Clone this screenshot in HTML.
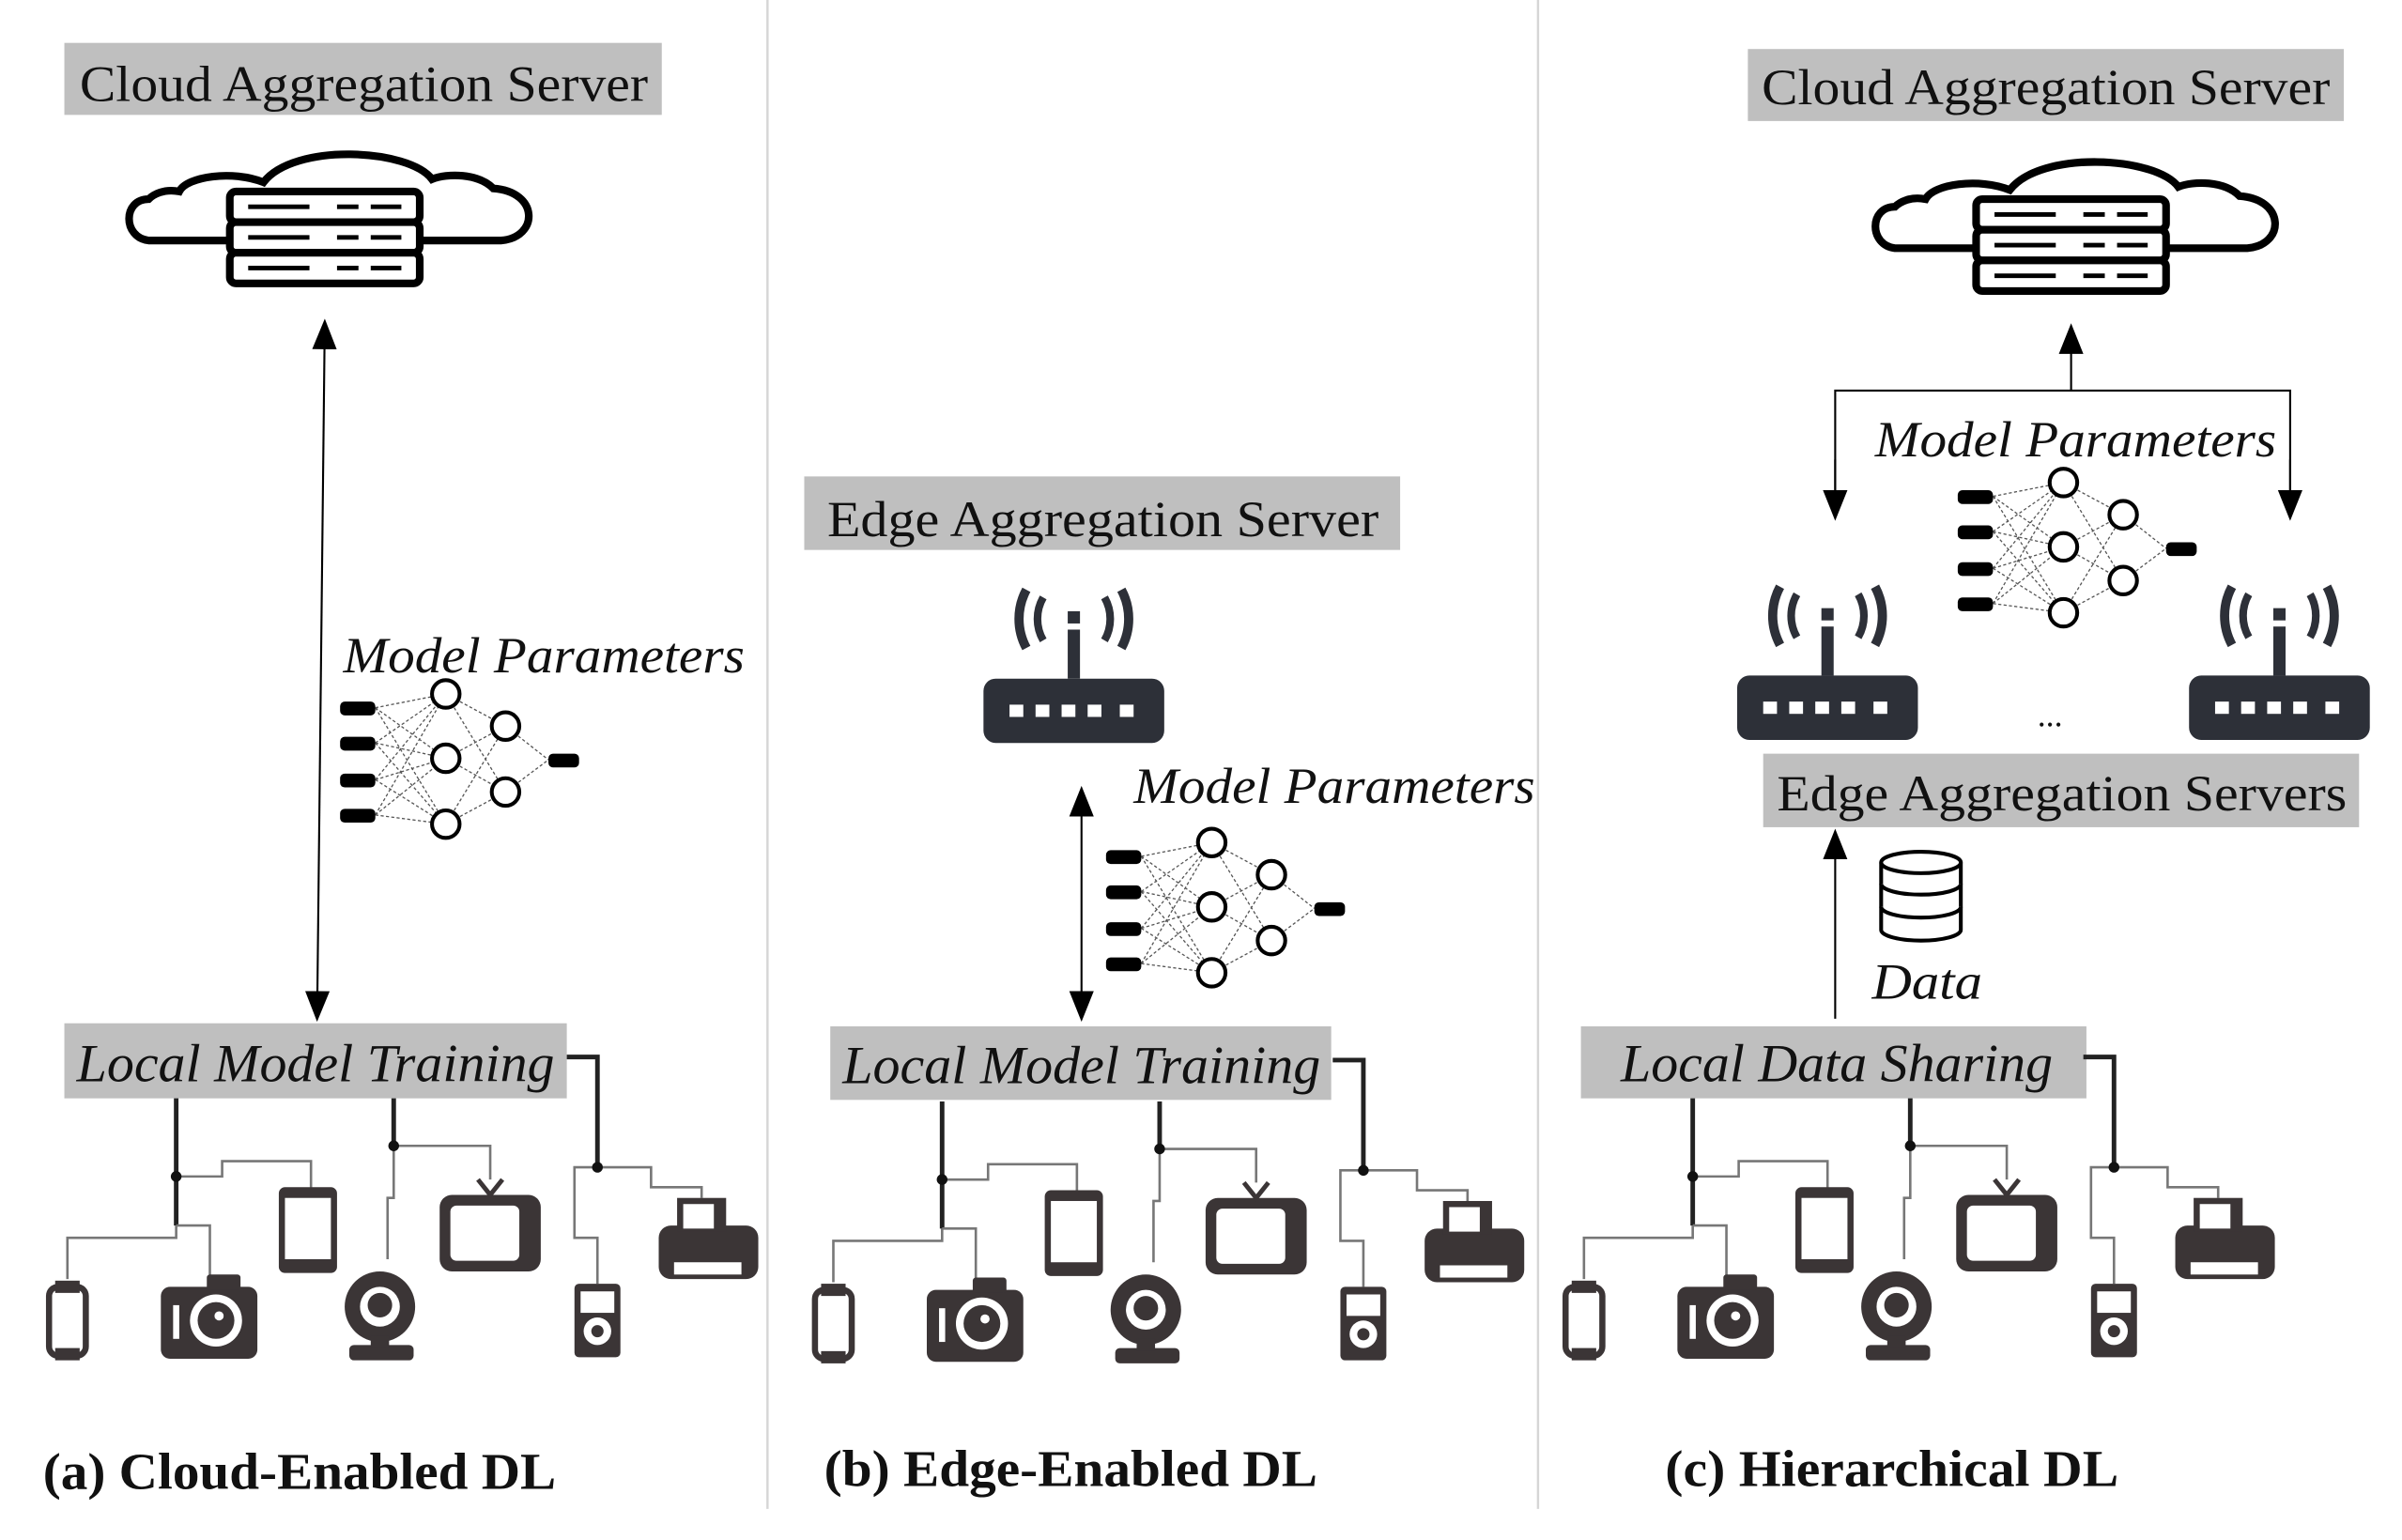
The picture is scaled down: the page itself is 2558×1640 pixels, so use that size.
<!DOCTYPE html>
<html><head><meta charset="utf-8"><style>
html,body{margin:0;padding:0;background:#fff;}
svg{display:block;}
text{font-family:"Liberation Serif","DejaVu Serif",serif;fill:#111;}
</style></head><body>
<svg width="2558" height="1640" viewBox="0 0 1568 1005.3" xmlns="http://www.w3.org/2000/svg" font-family="Liberation Serif, serif">
<defs>
<marker id="ahb" viewBox="0 0 10 10" refX="9" refY="5" markerWidth="20" markerHeight="20" orient="auto-start-reverse" markerUnits="userSpaceOnUse">
<path d="M0,1 L10,5 L0,9 z" fill="#000"/></marker>

<g id="cloud">
<path d="M-115,-25 C-132,-25 -132,0 -115,2 L115,2 C140,0 140,-30 110,-32 C100,-42 80,-42 70,-38 C55,-58 -20,-62 -40,-36 C-60,-44 -90,-40 -95,-30 C-105,-32 -112,-28 -115,-25 Z" fill="#fff" stroke="#000" stroke-width="5"/>
<rect x="-62" y="-30" width="124" height="20" rx="4" fill="#fff" stroke="#000" stroke-width="5"/>
<rect x="-62" y="-10" width="124" height="20" rx="4" fill="#fff" stroke="#000" stroke-width="5"/>
<rect x="-62" y="10" width="124" height="20" rx="4" fill="#fff" stroke="#000" stroke-width="5"/>
<g stroke="#000" stroke-width="3">
<line x1="-50" y1="-20" x2="-10" y2="-20"/><line x1="8" y1="-20" x2="22" y2="-20"/><line x1="30" y1="-20" x2="50" y2="-20"/>
<line x1="-50" y1="0" x2="-10" y2="0"/><line x1="8" y1="0" x2="22" y2="0"/><line x1="30" y1="0" x2="50" y2="0"/>
<line x1="-50" y1="20" x2="-10" y2="20"/><line x1="8" y1="20" x2="22" y2="20"/><line x1="30" y1="20" x2="50" y2="20"/>
</g>
</g>

<g id="nn">
<g stroke="#555" stroke-width="0.8" stroke-dasharray="2,1.5">
<path d="M23,4 L69,-5 M23,4 L69,37 M23,4 L69,80 M23,27 L69,-5 M23,27 L69,37 M23,27 L69,80 M23,51 L69,-5 M23,51 L69,37 M23,51 L69,80 M23,74 L69,-5 M23,74 L69,37 M23,74 L69,80"/>
<path d="M69,-5 L108,16 M69,-5 L108,59 M69,37 L108,16 M69,37 L108,59 M69,80 L108,16 M69,80 L108,59 M108,16 L136,38 M108,59 L136,38"/>
</g>
<g fill="#000">
<rect x="0" y="0" width="23" height="9" rx="3"/><rect x="0" y="23" width="23" height="9" rx="3"/>
<rect x="0" y="47" width="23" height="9" rx="3"/><rect x="0" y="70" width="23" height="9" rx="3"/>
<rect x="136" y="34" width="20" height="9" rx="3"/>
</g>
<g fill="#fff" stroke="#000" stroke-width="2.5">
<circle cx="69" cy="-5" r="9"/><circle cx="69" cy="37" r="9"/><circle cx="69" cy="80" r="9"/>
<circle cx="108" cy="16" r="9"/><circle cx="108" cy="59" r="9"/>
</g>
</g>

<g id="router">
<path d="M-31,-38 A40,40 0 0 0 -31,0" fill="none" stroke="#2d3038" stroke-width="6"/>
<path d="M-20,-33 A28,28 0 0 0 -20,-5" fill="none" stroke="#2d3038" stroke-width="5"/>
<path d="M31,-38 A40,40 0 0 1 31,0" fill="none" stroke="#2d3038" stroke-width="6"/>
<path d="M20,-33 A28,28 0 0 1 20,-5" fill="none" stroke="#2d3038" stroke-width="5"/>
<rect x="-4" y="-24" width="8" height="8" fill="#2d3038"/>
<rect x="-4" y="-12" width="8" height="32" fill="#2d3038"/>
<rect x="-59" y="20" width="118" height="42" rx="8" fill="#2d3038"/>
<g fill="#fff"><rect x="-42" y="37" width="9" height="8"/><rect x="-25" y="37" width="9" height="8"/><rect x="-8" y="37" width="9" height="8"/><rect x="9" y="37" width="9" height="8"/><rect x="30" y="37" width="9" height="8"/></g>
</g>

<g id="devices">
<g fill="none" stroke="#222" stroke-width="3">
<path d="M115,717 V800"/><path d="M257,717 V748"/><path d="M370,690 H390 V762"/>
</g>
<g fill="none" stroke="#777" stroke-width="1.6">
<path d="M115,768 H145 V758 H203 V776"/>
<path d="M115,800 H137 V835"/>
<path d="M115,800 V808 H44 V835"/>
<path d="M257,748 H320 V770"/>
<path d="M257,748 V782 H253 V822"/>
<path d="M390,762 H375 V808 H390 V838"/>
<path d="M390,762 H425 V775 H458 V782"/>
</g>
<g fill="#111"><circle cx="115" cy="768" r="3.5"/><circle cx="257" cy="748" r="3.5"/><circle cx="390" cy="762" r="3.5"/></g>
<g fill="#3b3536">
<rect x="32" y="840" width="24" height="45" rx="6" fill="#fff" stroke="#3b3536" stroke-width="4"/>
<rect x="36" y="836" width="16" height="8"/><rect x="36" y="880" width="16" height="8"/>
<rect x="105" y="840" width="63" height="47" rx="6"/><rect x="135" y="832" width="22" height="10" rx="2"/>
<circle cx="141" cy="862" r="17" fill="#fff"/><circle cx="141" cy="862" r="12"/><circle cx="143" cy="859" r="3" fill="#fff"/>
<rect x="113" y="852" width="4" height="22" fill="#fff"/>
<rect x="182" y="775" width="38" height="56" rx="4"/><rect x="186" y="782" width="30" height="40" fill="#fff"/>
<circle cx="248" cy="853" r="23"/><circle cx="248" cy="853" r="13" fill="#fff"/><circle cx="248" cy="852" r="8"/>
<rect x="228" y="878" width="42" height="10" rx="3"/><rect x="242" y="872" width="12" height="8"/>
<rect x="287" y="780" width="66" height="50" rx="8"/><rect x="294" y="787" width="45" height="36" rx="4" fill="#fff"/>
<path d="M312,770 L320,780 L328,770" fill="none" stroke="#3b3536" stroke-width="3"/>
<rect x="375" y="838" width="30" height="48" rx="3"/><rect x="379" y="843" width="22" height="14" fill="#fff"/>
<circle cx="390" cy="869" r="9" fill="#fff"/><circle cx="390" cy="869" r="4"/>
<rect x="430" y="800" width="65" height="35" rx="8"/><rect x="442" y="782" width="32" height="22"/>
<rect x="446" y="786" width="20" height="16" fill="#fff"/><rect x="440" y="824" width="44" height="8" fill="#fff"/>
</g>
</g>

<g id="db" fill="#fff" stroke="#000" stroke-width="2.5">
<path d="M0,8 V52 A26,7 0 0 0 52,52 V8"/>
<path d="M0,22 A26,7 0 0 0 52,22"/><path d="M0,37 A26,7 0 0 0 52,37"/>
<ellipse cx="26" cy="8" rx="26" ry="7"/>
</g>
</defs>

<line x1="501" y1="0" x2="501" y2="985" stroke="#d6d6d6" stroke-width="1.5"/>
<line x1="1004" y1="0" x2="1004" y2="985" stroke="#d6d6d6" stroke-width="1.5"/>

<!-- Panel A -->
<rect x="42" y="28" width="390" height="47" fill="#bfbfbf"/>
<text x="52" y="66" font-size="33" textLength="371" lengthAdjust="spacingAndGlyphs">Cloud Aggregation Server</text>
<use href="#cloud" x="212" y="155"/>
<line x1="212" y1="210" x2="207" y2="665" stroke="#000" stroke-width="1.3" marker-start="url(#ahb)" marker-end="url(#ahb)"/>
<text x="224" y="439" font-size="33" font-style="italic" textLength="262" lengthAdjust="spacingAndGlyphs">Model Parameters</text>
<use href="#nn" x="222" y="458"/>
<rect x="42" y="668" width="328" height="49" fill="#bfbfbf"/>
<text x="50" y="706" font-size="35" font-style="italic" textLength="312" lengthAdjust="spacingAndGlyphs">Local Model Training</text>
<use href="#devices"/>
<text x="28" y="972" font-size="34" font-weight="bold" textLength="335" lengthAdjust="spacingAndGlyphs">(a) Cloud-Enabled DL</text>

<!-- Panel B -->
<rect x="525" y="311" width="389" height="48" fill="#bfbfbf"/>
<text x="540" y="350" font-size="33" textLength="360" lengthAdjust="spacingAndGlyphs">Edge Aggregation Server</text>
<use href="#router" x="701" y="423"/>
<line x1="706" y1="515" x2="706" y2="665" stroke="#000" stroke-width="1.3" marker-start="url(#ahb)" marker-end="url(#ahb)"/>
<text x="740" y="524" font-size="33" font-style="italic" textLength="262" lengthAdjust="spacingAndGlyphs">Model Parameters</text>
<use href="#nn" x="722" y="555"/>
<rect x="542" y="670" width="327" height="48" fill="#bfbfbf"/>
<text x="550" y="707" font-size="35" font-style="italic" textLength="312" lengthAdjust="spacingAndGlyphs">Local Model Training</text>
<use href="#devices" x="500" y="2"/>
<text x="538" y="970" font-size="34" font-weight="bold" textLength="322" lengthAdjust="spacingAndGlyphs">(b) Edge-Enabled DL</text>

<!-- Panel C -->
<rect x="1141" y="32" width="389" height="47" fill="#bfbfbf"/>
<text x="1150" y="68" font-size="33" textLength="371" lengthAdjust="spacingAndGlyphs">Cloud Aggregation Server</text>
<use href="#cloud" x="1352" y="160"/>
<path d="M1198,333 V255 H1495 V333" fill="none" stroke="#000" stroke-width="1.3"/>
<line x1="1352" y1="255" x2="1352" y2="213" stroke="#000" stroke-width="1.3" marker-end="url(#ahb)"/>
<line x1="1198" y1="300" x2="1198" y2="338" stroke="#000" stroke-width="1.3" marker-end="url(#ahb)"/>
<line x1="1495" y1="300" x2="1495" y2="338" stroke="#000" stroke-width="1.3" marker-end="url(#ahb)"/>
<text x="1224" y="298" font-size="33" font-style="italic" textLength="262" lengthAdjust="spacingAndGlyphs">Model Parameters</text>
<use href="#nn" x="1278" y="320"/>
<use href="#router" x="1193" y="421"/>
<use href="#router" x="1488" y="421"/>
<text x="1330" y="474" font-size="22">...</text>
<rect x="1151" y="492" width="389" height="48" fill="#bfbfbf"/>
<text x="1160" y="529" font-size="33" textLength="372" lengthAdjust="spacingAndGlyphs">Edge Aggregation Servers</text>
<line x1="1198" y1="665" x2="1198" y2="543" stroke="#000" stroke-width="1.3" marker-end="url(#ahb)"/>
<use href="#db" x="1228" y="555"/>
<text x="1222" y="652" font-size="33" font-style="italic" textLength="72" lengthAdjust="spacingAndGlyphs">Data</text>
<rect x="1032" y="670" width="330" height="47" fill="#bfbfbf"/>
<text x="1058" y="706" font-size="35" font-style="italic" textLength="282" lengthAdjust="spacingAndGlyphs">Local Data Sharing</text>
<use href="#devices" x="990" y="0"/>
<text x="1087" y="970" font-size="34" font-weight="bold" textLength="296" lengthAdjust="spacingAndGlyphs">(c) Hierarchical DL</text>
</svg>
</body></html>
